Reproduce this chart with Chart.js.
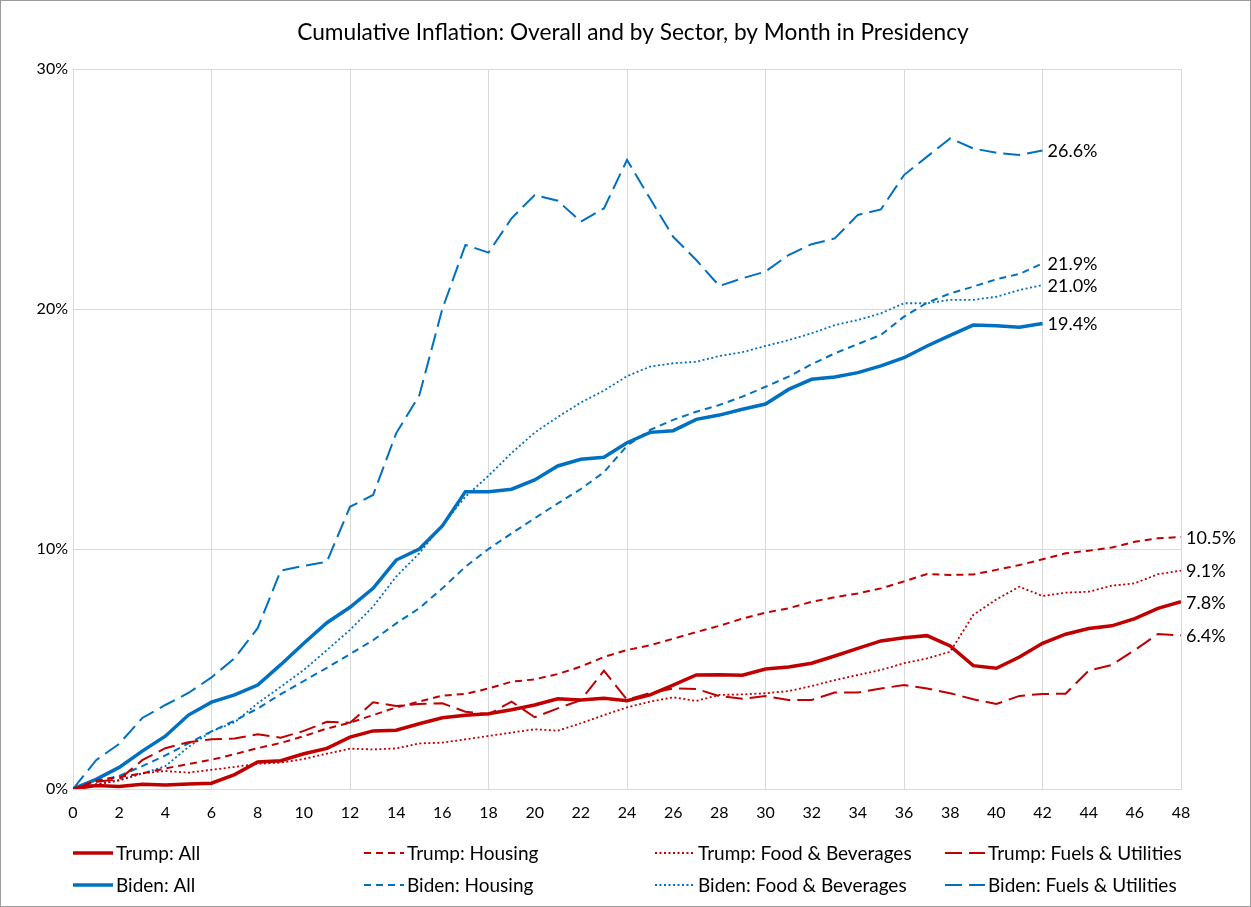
<!DOCTYPE html>
<html>
<head>
<meta charset="utf-8">
<script src="https://cdn.jsdelivr.net/npm/chart.js@4.4.1/dist/chart.umd.min.js"></script>
<style>
  html, body { margin: 0; padding: 0; background: #ffffff; }
  #wrap { width: 1251px; height: 907px; }
  canvas { display: block; }
</style>
</head>
<body>
<div id="wrap"><canvas id="chart" width="1251" height="907"></canvas></div>
<script>
// Month of presidency (x axis)
const months = [0, 1, 2, 3, 4, 5, 6, 7, 8, 9, 10, 11, 12, 13, 14, 15, 16, 17, 18, 19, 20,
  21, 22, 23, 24, 25, 26, 27, 28, 29, 30, 31, 32, 33, 34, 35, 36, 37, 38, 39, 40, 41, 42,
  43, 44, 45, 46, 47, 48];

// Cumulative inflation, % since inauguration
const trumpAll = [0, 0.15, 0.1, 0.2, 0.17, 0.21, 0.24, 0.6, 1.13, 1.18, 1.47, 1.69, 2.16,
  2.42, 2.45, 2.72, 2.97, 3.07, 3.14, 3.3, 3.5, 3.76, 3.71, 3.78, 3.68, 3.92, 4.33, 4.75,
  4.76, 4.74, 5.0, 5.08, 5.24, 5.54, 5.86, 6.17, 6.3, 6.39, 5.96, 5.14, 5.03, 5.5, 6.07,
  6.45, 6.69, 6.8, 7.1, 7.53, 7.8];
const trumpHousing = [0, 0.35, 0.5, 0.65, 0.86, 1.04, 1.22, 1.45, 1.7, 1.92, 2.2, 2.52, 2.76,
  3.08, 3.4, 3.64, 3.89, 3.96, 4.19, 4.47, 4.57, 4.79, 5.1, 5.5, 5.79, 5.99, 6.26, 6.54,
  6.8, 7.1, 7.35, 7.53, 7.8, 7.99, 8.15, 8.36, 8.65, 8.96, 8.92, 8.94, 9.13, 9.33, 9.57,
  9.82, 9.93, 10.06, 10.3, 10.45, 10.5];
const trumpFood = [0, 0.2, 0.35, 0.65, 0.75, 0.68, 0.8, 0.92, 1.05, 1.1, 1.25, 1.47, 1.68,
  1.65, 1.69, 1.9, 1.93, 2.07, 2.21, 2.35, 2.49, 2.43, 2.74, 3.08, 3.4, 3.64, 3.82, 3.67,
  3.92, 3.94, 3.99, 4.08, 4.29, 4.54, 4.75, 4.96, 5.24, 5.44, 5.72, 7.25, 7.9, 8.43, 8.04,
  8.18, 8.22, 8.47, 8.57, 8.95, 9.1];
const trumpFuels = [0, 0.3, 0.4, 1.2, 1.7, 1.95, 2.07, 2.1, 2.28, 2.14, 2.42, 2.8, 2.76,
  3.61, 3.46, 3.54, 3.57, 3.22, 3.11, 3.64, 2.99, 3.36, 3.7, 4.93, 3.72, 4.0, 4.19, 4.17,
  3.87, 3.76, 3.87, 3.71, 3.71, 4.02, 4.02, 4.19, 4.33, 4.19, 3.99, 3.74, 3.54, 3.88, 3.96,
  3.97, 4.93, 5.17, 5.79, 6.46, 6.4];

const bidenAll = [0, 0.4, 0.9, 1.58, 2.2, 3.08, 3.62, 3.92, 4.33, 5.18, 6.07, 6.93, 7.57,
  8.36, 9.54, 10.0, 10.96, 12.39, 12.39, 12.49, 12.88, 13.46, 13.74, 13.82, 14.43, 14.86,
  14.93, 15.4, 15.58, 15.82, 16.04, 16.65, 17.07, 17.17, 17.35, 17.63, 17.97, 18.46, 18.9,
  19.33, 19.3, 19.24, 19.4];
const bidenHousing = [0, 0.3, 0.55, 0.95, 1.4, 1.9, 2.4, 2.85, 3.35, 3.95, 4.5, 5.05, 5.62,
  6.2, 6.9, 7.53, 8.36, 9.26, 10.0, 10.65, 11.28, 11.9, 12.5, 13.2, 14.3, 14.96, 15.38,
  15.72, 16.0, 16.35, 16.76, 17.18, 17.7, 18.15, 18.54, 18.92, 19.68, 20.26, 20.65, 20.93,
  21.24, 21.46, 21.9];
const bidenFood = [0, 0.17, 0.38, 0.65, 0.95, 1.75, 2.4, 2.78, 3.57, 4.26, 4.96, 5.79, 6.63,
  7.6, 8.85, 9.82, 11.0, 12.18, 13.05, 14.0, 14.85, 15.5, 16.1, 16.6, 17.2, 17.6, 17.74,
  17.8, 18.04, 18.2, 18.46, 18.7, 18.99, 19.33, 19.54, 19.82, 20.24, 20.24, 20.38, 20.38,
  20.51, 20.79, 21.0];
const bidenFuels = [0, 1.2, 1.88, 2.96, 3.5, 4.0, 4.65, 5.45, 6.7, 9.1, 9.3, 9.47, 11.76,
  12.25, 14.82, 16.4, 20.0, 22.67, 22.35, 23.78, 24.75, 24.51, 23.64, 24.19, 26.21, 24.6,
  23.01, 22.04, 20.96, 21.28, 21.56, 22.25, 22.7, 22.94, 23.92, 24.15, 25.58, 26.35, 27.11,
  26.69, 26.51, 26.42, 26.6];

// Axis ticks
const yTicks = [0, 10, 20, 30];
const xTickStep = 2;
const xGridStep = 6;

const TITLE = 'Cumulative Inflation: Overall and by Sector, by Month in Presidency';
const RED = '#C00000';
const BLUE = '#0070C0';
const FONT = "Lato, 'Open Sans', sans-serif";

const styleAll = { borderWidth: 3.5, borderDash: [] };
const styleHousing = { borderWidth: 2, borderDash: [7, 5] };
const styleFood = { borderWidth: 1.8, borderDash: [2, 2.5] };
const styleFuels = { borderWidth: 2, borderDash: [17, 7] };

function series(label, data, color, style) {
  return {
    label, data,
    borderColor: color, backgroundColor: color,
    borderWidth: style.borderWidth, borderDash: style.borderDash,
    pointRadius: 0, pointHoverRadius: 0, tension: 0, fill: false
  };
}

const datasets = [
  series('Trump: All', trumpAll, RED, styleAll),
  series('Trump: Housing', trumpHousing, RED, styleHousing),
  series('Trump: Food & Beverages', trumpFood, RED, styleFood),
  series('Trump: Fuels & Utilities', trumpFuels, RED, styleFuels),
  series('Biden: All', bidenAll, BLUE, styleAll),
  series('Biden: Housing', bidenHousing, BLUE, styleHousing),
  series('Biden: Food & Beverages', bidenFood, BLUE, styleFood),
  series('Biden: Fuels & Utilities', bidenFuels, BLUE, styleFuels)
];

// Value labels at the end of each line
const endLabels = {
  id: 'endLabels',
  afterDatasetsDraw(chart) {
    const ctx = chart.ctx;
    ctx.save();
    ctx.font = '18px ' + FONT;
    ctx.fillStyle = '#000000';
    ctx.textAlign = 'left';
    ctx.textBaseline = 'middle';
    chart.data.datasets.forEach((ds, i) => {
      const meta = chart.getDatasetMeta(i);
      const last = meta.data[meta.data.length - 1];
      const v = ds.data[ds.data.length - 1];
      ctx.fillText(v.toFixed(1) + '%', last.x + 5, last.y + 1);
    });
    ctx.restore();
  }
};

// Title, two-row legend in four columns, and the outer frame
const decorations = {
  id: 'decorations',
  afterDraw(chart) {
    const ctx = chart.ctx;
    ctx.save();

    ctx.font = '22.7px ' + FONT;
    ctx.fillStyle = '#000000';
    ctx.textAlign = 'center';
    ctx.textBaseline = 'middle';
    ctx.fillText(TITLE, 633, 33);

    const colX = [73, 364, 655, 945];
    const rowY = [853, 885];
    ctx.font = '19px ' + FONT;
    ctx.textAlign = 'left';
    chart.data.datasets.forEach((ds, i) => {
      const x = colX[i % 4];
      const y = rowY[Math.floor(i / 4)];
      ctx.strokeStyle = ds.borderColor;
      ctx.lineWidth = ds.borderWidth;
      ctx.setLineDash(ds.borderDash);
      ctx.beginPath();
      ctx.moveTo(x, y);
      ctx.lineTo(x + 40, y);
      ctx.stroke();
      ctx.setLineDash([]);
      ctx.fillStyle = '#000000';
      ctx.fillText(ds.label, x + 43, y + 1);
    });

    ctx.strokeStyle = '#9a9a9a';
    ctx.lineWidth = 1;
    ctx.strokeRect(0.5, 0.5, chart.width - 1, chart.height - 1);
    ctx.restore();
  }
};

Chart.defaults.font.family = FONT;
Chart.defaults.color = '#000000';

new Chart(document.getElementById('chart'), {
  type: 'line',
  data: { labels: months, datasets },
  plugins: [endLabels, decorations],
  options: {
    responsive: false,
    animation: false,
    devicePixelRatio: 1,
    layout: { padding: { left: 0, right: 70, top: 69, bottom: 0 } },
    plugins: {
      legend: { display: false },
      tooltip: { enabled: false },
      title: { display: false }
    },
    scales: {
      x: {
        type: 'linear',
        min: 0, max: 48,
        afterFit(scale) { scale.height = 118; },
        ticks: {
          stepSize: xTickStep,
          font: { size: 16 },
          padding: 14,
          maxRotation: 0,
          autoSkip: false
        },
        grid: {
          drawTicks: false,
          color: c => (c.tick && c.tick.value % xGridStep === 0) ? '#d9d9d9' : 'rgba(0,0,0,0)',
          lineWidth: 1
        },
        border: { color: '#d9d9d9' }
      },
      y: {
        min: 0, max: 30,
        afterFit(scale) { scale.width = 73; },
        afterBuildTicks(scale) { scale.ticks = yTicks.map(v => ({ value: v })); },
        ticks: {
          font: { size: 16 },
          padding: 5,
          callback: v => v + '%'
        },
        grid: { drawTicks: false, color: '#d9d9d9', lineWidth: 1 },
        border: { color: '#d9d9d9' }
      }
    }
  }
});
</script>
</body>
</html>
